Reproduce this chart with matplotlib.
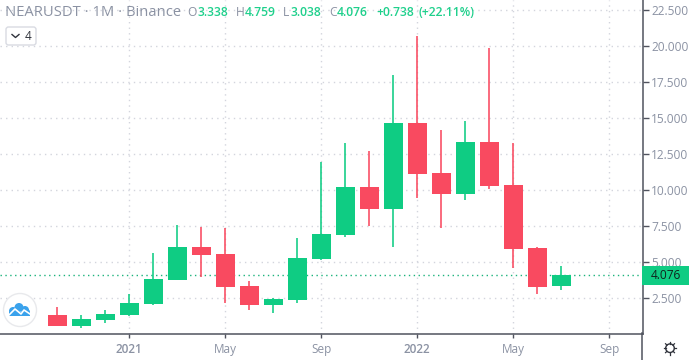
import numpy as np
import matplotlib
matplotlib.use("Agg")
import matplotlib.pyplot as plt
from matplotlib.patches import Circle, FancyBboxPatch, Rectangle, Polygon

months = ["2020-10","2020-11","2020-12","2021-01","2021-02","2021-03","2021-04","2021-05","2021-06","2021-07","2021-08",
          "2021-09","2021-10","2021-11","2021-12","2022-01","2022-02","2022-03","2022-04","2022-05","2022-06","2022-07"]
opens  = [1.34,0.58,0.99,1.34,2.10,3.76,6.05,5.56,3.35,2.03,2.38,5.22,6.88,10.20,8.68,14.64,11.18,9.72,13.33,10.35,5.98,3.338]
highs  = [1.90,1.34,1.68,2.79,5.63,7.57,7.45,7.37,3.70,2.50,6.68,11.94,13.25,12.70,17.97,20.67,14.16,14.78,19.84,13.25,6.05,4.759]
lows   = [0.58,0.44,0.78,1.30,2.03,3.76,3.97,2.17,1.68,1.47,2.17,5.15,6.74,7.50,6.05,9.45,7.37,9.30,10.07,4.60,2.79,3.038]
closes = [0.58,1.06,1.41,2.17,3.83,6.05,5.50,3.28,2.03,2.45,5.29,6.95,10.20,8.68,14.64,11.10,9.72,13.33,10.28,5.91,3.28,4.076]
y_ticks = [2.5,5,7.5,10,12.5,15,17.5,20,22.5]
y_labels = ["2.500","5.000","7.500","10.000","12.500","15.000","17.500","20.000","22.500"]
x_pos = [3,7,11,15,19,23]
x_labels = ["2021","May","Sep","2022","May","Sep"]
last = 4.076

GREEN="#0fcc83"; RED="#f94a60"; GRID="#d3d5dd"; TXT="#8b92a3"; AX="#50535e"; LEG="#8b92a3"; LGREEN="#1fd08c"
FONT="Open Sans"
plt.rcParams['font.family']=[FONT,'DejaVu Sans']
W,H=694,360
fig=plt.figure(figsize=(W/100,H/100),dpi=100,facecolor="white")
ax=fig.add_axes([0,(H-333.5)/H,642.5/W,333.5/H])
ax.set_xlim(-57.3/24,(642.5-57.3)/24)
ax.set_ylim(0.055,23.17)
ax.set_yticks(y_ticks); ax.set_yticklabels(y_labels)
ax.yaxis.tick_right()
ax.set_xticks(x_pos); ax.set_xticklabels(x_labels)
for lab in ax.get_xticklabels():
    if lab.get_text() in ("2021","2022"):
        lab.set_fontweight("semibold")
ax.grid(True,color=GRID,linestyle=(0,(1,3)),linewidth=1)
ax.set_axisbelow(True)
for s in ["top","left"]: ax.spines[s].set_visible(False)
for s in ["right","bottom"]:
    ax.spines[s].set_color(AX); ax.spines[s].set_linewidth(1.1)
ax.tick_params(axis="y",colors=AX,labelcolor=TXT,labelsize=8.6,length=4.3,width=1,pad=2)
ax.tick_params(axis="x",colors=AX,labelcolor=TXT,labelsize=8.5,length=2.7,width=1,pad=4)
ax.axhline(last,color="#1bb37c",linestyle=(0,(1,2.5)),linewidth=1,zorder=1)
for i,(o,h,l,c) in enumerate(zip(opens,highs,lows,closes)):
    col=GREEN if c>=o else RED
    ax.vlines(i,l,h,color=col,linewidth=1.15,zorder=3)
    ax.bar(i,abs(c-o),bottom=min(o,c),width=19/24,color=col,linewidth=0,zorder=4)

ov=fig.add_axes([0,0,1,1],facecolor="none")
ov.set_xlim(0,W); ov.set_ylim(H,0); ov.axis("off")
ov.add_patch(Rectangle((642.5,266),46.5,19,facecolor=GREEN,edgecolor="none"))
ov.text(651,275.5,"4.076",ha="left",va="center",fontsize=8.6,color="#10231c")
ov.plot([642.5,642.5],[333,360],color=AX,lw=1.1)
# legend
ov.text(5,13,"NEARUSDT · 1M · Binance",fontsize=10.6,color=LEG,va="center")
parts=[(187,"O",LEG),(198,"3.338",LGREEN),(236,"H",LEG),(245,"4.759",LGREEN),(283,"L",LEG),(291,"3.038",LGREEN),
       (329,"C",LEG),(337,"4.076",LGREEN),(376,"+0.738",LGREEN),(419,"(+22.11%)",LGREEN)]
for x,t,c in parts:
    ov.text(x,13,t,fontsize=8.7,color=c,va="center",fontweight="semibold" if c==LGREEN else "normal")
ov.add_patch(FancyBboxPatch((6,27),30,18,boxstyle="round,pad=0,rounding_size=2.5",facecolor="white",edgecolor="#d9dbe2",lw=1))
ov.plot([12,15.5,19],[34.5,37.5,34.5],color="#30333c",lw=1)
ov.text(28.5,36.5,"4",fontsize=8.5,color="#30333c",ha="center",va="center")
# logo
ov.add_patch(Circle((20,310),16.5,facecolor="white",edgecolor="#e8e9ec",lw=1))
for cx,cy,r in [(13,311,4),(19,307.5,4.5),(25,310,4),(27,312,3)]:
    ov.add_patch(Circle((cx,cy),r,facecolor="#3aa2ec",edgecolor="none"))
ov.add_patch(Polygon([(9,312),(30,312),(30,316),(9,316)],facecolor="#3aa2ec",edgecolor="none"))
ov.plot([9,15,21,24,30],[315,309,314,310,314],color="white",lw=1.2)
# settings icon
ov.add_patch(Circle((670,348.2),4.3,facecolor="white",edgecolor="#30333c",lw=1))
for a in np.arange(8)*np.pi/4:
    ov.plot([670+4.3*np.cos(a),670+6.3*np.cos(a)],[348.2+4.3*np.sin(a),348.2+6.3*np.sin(a)],color="#30333c",lw=0.9)
fig.savefig("out.png",dpi=100)
